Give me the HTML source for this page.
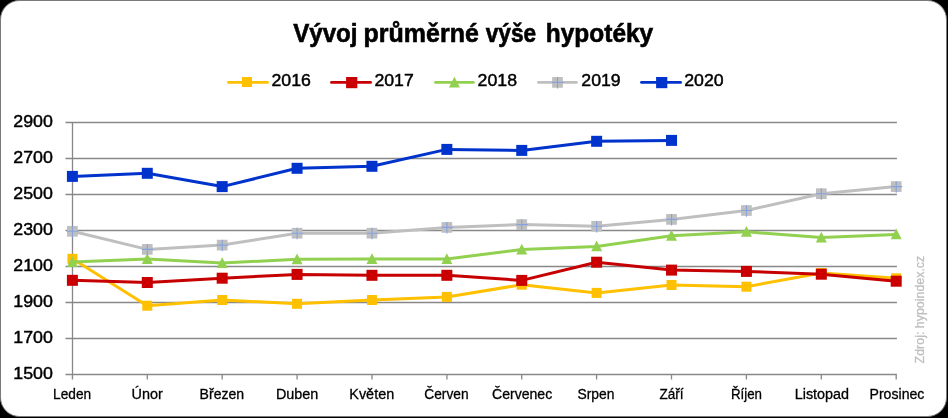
<!DOCTYPE html>
<html><head><meta charset="utf-8"><title>Vývoj průměrné výše hypotéky</title>
<style>
html,body{margin:0;padding:0;background:#000;}
body{width:948px;height:418px;overflow:hidden;}
svg{display:block;font-family:"Liberation Sans", sans-serif;will-change:transform;}
</style></head><body>
<svg width="948" height="418" viewBox="0 0 948 418">
<rect x="0" y="0" width="948" height="418" fill="#000"/>
<rect x="0.5" y="0.5" width="946" height="416" rx="19" ry="19" fill="#fff" stroke="#7a7a7a" stroke-width="1"/>

<path d="M65.5 122.5H896.9 M65.5 158.5H896.9 M65.5 194.5H896.9 M65.5 230.5H896.9 M65.5 266.5H896.9 M65.5 302.5H896.9 M65.5 338.5H896.9 M65.5 374.5H896.9 M72.5 122V379.5 M72.4 374.5V379.5 M147.3 374.5V379.5 M222.2 374.5V379.5 M297.1 374.5V379.5 M372.0 374.5V379.5 M446.9 374.5V379.5 M521.7 374.5V379.5 M596.6 374.5V379.5 M671.5 374.5V379.5 M746.4 374.5V379.5 M821.3 374.5V379.5 M896.2 374.5V379.5" stroke="#888888" stroke-width="1.3" fill="none"/>
<polyline points="72.40,258.80 147.29,305.70 222.18,300.00 297.07,303.80 371.96,300.00 446.85,296.90 521.75,284.70 596.64,292.90 671.53,285.00 746.42,286.70 821.31,273.00 896.20,278.30" fill="none" stroke="#FFC000" stroke-width="3" stroke-linejoin="round" stroke-linecap="round"/>
<rect x="67.40" y="253.80" width="10.0" height="10.0" fill="#FFC000"/>
<rect x="142.29" y="300.70" width="10.0" height="10.0" fill="#FFC000"/>
<rect x="217.18" y="295.00" width="10.0" height="10.0" fill="#FFC000"/>
<rect x="292.07" y="298.80" width="10.0" height="10.0" fill="#FFC000"/>
<rect x="366.96" y="295.00" width="10.0" height="10.0" fill="#FFC000"/>
<rect x="441.85" y="291.90" width="10.0" height="10.0" fill="#FFC000"/>
<rect x="516.75" y="279.70" width="10.0" height="10.0" fill="#FFC000"/>
<rect x="591.64" y="287.90" width="10.0" height="10.0" fill="#FFC000"/>
<rect x="666.53" y="280.00" width="10.0" height="10.0" fill="#FFC000"/>
<rect x="741.42" y="281.70" width="10.0" height="10.0" fill="#FFC000"/>
<rect x="816.31" y="268.00" width="10.0" height="10.0" fill="#FFC000"/>
<rect x="891.20" y="273.30" width="10.0" height="10.0" fill="#FFC000"/>
<polyline points="72.40,280.30 147.29,282.50 222.18,278.20 297.07,274.40 371.96,275.30 446.85,275.30 521.75,280.40 596.64,262.20 671.53,270.10 746.42,271.40 821.31,274.20 896.20,281.20" fill="none" stroke="#C60000" stroke-width="3" stroke-linejoin="round" stroke-linecap="round"/>
<rect x="66.90" y="274.80" width="11.0" height="11.0" fill="#C60000"/><path d="M67.90 275.80L76.90 284.80M76.90 275.80L67.90 284.80" stroke="#D60000" stroke-width="1.2" fill="none"/>
<rect x="141.79" y="277.00" width="11.0" height="11.0" fill="#C60000"/><path d="M142.79 278.00L151.79 287.00M151.79 278.00L142.79 287.00" stroke="#D60000" stroke-width="1.2" fill="none"/>
<rect x="216.68" y="272.70" width="11.0" height="11.0" fill="#C60000"/><path d="M217.68 273.70L226.68 282.70M226.68 273.70L217.68 282.70" stroke="#D60000" stroke-width="1.2" fill="none"/>
<rect x="291.57" y="268.90" width="11.0" height="11.0" fill="#C60000"/><path d="M292.57 269.90L301.57 278.90M301.57 269.90L292.57 278.90" stroke="#D60000" stroke-width="1.2" fill="none"/>
<rect x="366.46" y="269.80" width="11.0" height="11.0" fill="#C60000"/><path d="M367.46 270.80L376.46 279.80M376.46 270.80L367.46 279.80" stroke="#D60000" stroke-width="1.2" fill="none"/>
<rect x="441.35" y="269.80" width="11.0" height="11.0" fill="#C60000"/><path d="M442.35 270.80L451.35 279.80M451.35 270.80L442.35 279.80" stroke="#D60000" stroke-width="1.2" fill="none"/>
<rect x="516.25" y="274.90" width="11.0" height="11.0" fill="#C60000"/><path d="M517.25 275.90L526.25 284.90M526.25 275.90L517.25 284.90" stroke="#D60000" stroke-width="1.2" fill="none"/>
<rect x="591.14" y="256.70" width="11.0" height="11.0" fill="#C60000"/><path d="M592.14 257.70L601.14 266.70M601.14 257.70L592.14 266.70" stroke="#D60000" stroke-width="1.2" fill="none"/>
<rect x="666.03" y="264.60" width="11.0" height="11.0" fill="#C60000"/><path d="M667.03 265.60L676.03 274.60M676.03 265.60L667.03 274.60" stroke="#D60000" stroke-width="1.2" fill="none"/>
<rect x="740.92" y="265.90" width="11.0" height="11.0" fill="#C60000"/><path d="M741.92 266.90L750.92 275.90M750.92 266.90L741.92 275.90" stroke="#D60000" stroke-width="1.2" fill="none"/>
<rect x="815.81" y="268.70" width="11.0" height="11.0" fill="#C60000"/><path d="M816.81 269.70L825.81 278.70M825.81 269.70L816.81 278.70" stroke="#D60000" stroke-width="1.2" fill="none"/>
<rect x="890.70" y="275.70" width="11.0" height="11.0" fill="#C60000"/><path d="M891.70 276.70L900.70 285.70M900.70 276.70L891.70 285.70" stroke="#D60000" stroke-width="1.2" fill="none"/>
<polyline points="72.40,262.00 147.29,259.00 222.18,263.00 297.07,259.30 371.96,259.00 446.85,259.00 521.75,249.50 596.64,246.40 671.53,235.70 746.42,231.80 821.31,237.60 896.20,234.40" fill="none" stroke="#92D050" stroke-width="3" stroke-linejoin="round" stroke-linecap="round"/>
<polygon points="72.40,256.17 77.90,266.95 66.90,266.95" fill="#92D050"/>
<polygon points="147.29,253.17 152.79,263.95 141.79,263.95" fill="#92D050"/>
<polygon points="222.18,257.17 227.68,267.95 216.68,267.95" fill="#92D050"/>
<polygon points="297.07,253.47 302.57,264.25 291.57,264.25" fill="#92D050"/>
<polygon points="371.96,253.17 377.46,263.95 366.46,263.95" fill="#92D050"/>
<polygon points="446.85,253.17 452.35,263.95 441.35,263.95" fill="#92D050"/>
<polygon points="521.75,243.67 527.25,254.45 516.25,254.45" fill="#92D050"/>
<polygon points="596.64,240.57 602.14,251.35 591.14,251.35" fill="#92D050"/>
<polygon points="671.53,229.87 677.03,240.65 666.03,240.65" fill="#92D050"/>
<polygon points="746.42,225.97 751.92,236.75 740.92,236.75" fill="#92D050"/>
<polygon points="821.31,231.77 826.81,242.55 815.81,242.55" fill="#92D050"/>
<polygon points="896.20,228.57 901.70,239.35 890.70,239.35" fill="#92D050"/>
<polyline points="72.40,231.30 147.29,249.40 222.18,245.10 297.07,233.20 371.96,233.20 446.85,227.40 521.75,224.60 596.64,226.30 671.53,219.40 746.42,210.50 821.31,193.70 896.20,186.60" fill="none" stroke="#BFBFBF" stroke-width="3" stroke-linejoin="round" stroke-linecap="round"/>
<rect x="67.05" y="225.95" width="10.7" height="10.7" fill="#BFBFBF"/><path d="M67.05 231.30H78.35M72.40 225.95V237.45" stroke="#86A2DE" stroke-width="1.1" fill="none"/>
<rect x="141.94" y="244.05" width="10.7" height="10.7" fill="#BFBFBF"/><path d="M141.94 249.40H153.24M147.29 244.05V255.55" stroke="#86A2DE" stroke-width="1.1" fill="none"/>
<rect x="216.83" y="239.75" width="10.7" height="10.7" fill="#BFBFBF"/><path d="M216.83 245.10H228.13M222.18 239.75V251.25" stroke="#86A2DE" stroke-width="1.1" fill="none"/>
<rect x="291.72" y="227.85" width="10.7" height="10.7" fill="#BFBFBF"/><path d="M291.72 233.20H303.02M297.07 227.85V239.35" stroke="#86A2DE" stroke-width="1.1" fill="none"/>
<rect x="366.61" y="227.85" width="10.7" height="10.7" fill="#BFBFBF"/><path d="M366.61 233.20H377.91M371.96 227.85V239.35" stroke="#86A2DE" stroke-width="1.1" fill="none"/>
<rect x="441.50" y="222.05" width="10.7" height="10.7" fill="#BFBFBF"/><path d="M441.50 227.40H452.80M446.85 222.05V233.55" stroke="#86A2DE" stroke-width="1.1" fill="none"/>
<rect x="516.40" y="219.25" width="10.7" height="10.7" fill="#BFBFBF"/><path d="M516.40 224.60H527.70M521.75 219.25V230.75" stroke="#86A2DE" stroke-width="1.1" fill="none"/>
<rect x="591.29" y="220.95" width="10.7" height="10.7" fill="#BFBFBF"/><path d="M591.29 226.30H602.59M596.64 220.95V232.45" stroke="#86A2DE" stroke-width="1.1" fill="none"/>
<rect x="666.18" y="214.05" width="10.7" height="10.7" fill="#BFBFBF"/><path d="M666.18 219.40H677.48M671.53 214.05V225.55" stroke="#86A2DE" stroke-width="1.1" fill="none"/>
<rect x="741.07" y="205.15" width="10.7" height="10.7" fill="#BFBFBF"/><path d="M741.07 210.50H752.37M746.42 205.15V216.65" stroke="#86A2DE" stroke-width="1.1" fill="none"/>
<rect x="815.96" y="188.35" width="10.7" height="10.7" fill="#BFBFBF"/><path d="M815.96 193.70H827.26M821.31 188.35V199.85" stroke="#86A2DE" stroke-width="1.1" fill="none"/>
<rect x="890.85" y="181.25" width="10.7" height="10.7" fill="#BFBFBF"/><path d="M890.85 186.60H902.15M896.20 181.25V192.75" stroke="#86A2DE" stroke-width="1.1" fill="none"/>
<polyline points="72.40,176.40 147.29,173.30 222.18,186.60 297.07,168.30 371.96,166.30 446.85,149.40 521.75,150.40 596.64,141.30 671.53,140.40" fill="none" stroke="#0033CC" stroke-width="3" stroke-linejoin="round" stroke-linecap="round"/>
<rect x="66.90" y="170.90" width="11.0" height="11.0" fill="#0033CC"/>
<rect x="141.79" y="167.80" width="11.0" height="11.0" fill="#0033CC"/>
<rect x="216.68" y="181.10" width="11.0" height="11.0" fill="#0033CC"/>
<rect x="291.57" y="162.80" width="11.0" height="11.0" fill="#0033CC"/>
<rect x="366.46" y="160.80" width="11.0" height="11.0" fill="#0033CC"/>
<rect x="441.35" y="143.90" width="11.0" height="11.0" fill="#0033CC"/>
<rect x="516.25" y="144.90" width="11.0" height="11.0" fill="#0033CC"/>
<rect x="591.14" y="135.80" width="11.0" height="11.0" fill="#0033CC"/>
<rect x="666.03" y="134.90" width="11.0" height="11.0" fill="#0033CC"/>
<text x="293.20" y="42.4" font-size="25.1" font-weight="bold" fill="#000" stroke="#000" stroke-width="0.6" textLength="64.30" lengthAdjust="spacingAndGlyphs">Vývoj</text>
<text x="363.60" y="42.4" font-size="25.1" font-weight="bold" fill="#000" stroke="#000" stroke-width="0.6" textLength="115.20" lengthAdjust="spacingAndGlyphs">průměrné</text>
<text x="485.70" y="42.4" font-size="25.1" font-weight="bold" fill="#000" stroke="#000" stroke-width="0.6" textLength="50.50" lengthAdjust="spacingAndGlyphs">výše</text>
<text x="545.80" y="42.4" font-size="25.1" font-weight="bold" fill="#000" stroke="#000" stroke-width="0.6" textLength="107.40" lengthAdjust="spacingAndGlyphs">hypotéky</text>
<path d="M228.5 82.4H267.6" stroke="#FFC000" stroke-width="2.8" stroke-linecap="round"/>
<rect x="242.00" y="77.00" width="10.0" height="10.0" fill="#FFC000"/>
<text x="271.5" y="86.2" font-size="17.2" fill="#000" stroke="#000" stroke-width="0.45" textLength="39.4" lengthAdjust="spacingAndGlyphs">2016</text>
<path d="M331.5 82.4H370.6" stroke="#C60000" stroke-width="2.8" stroke-linecap="round"/>
<rect x="346.10" y="77.00" width="11.2" height="11.2" fill="#C60000"/><path d="M347.10 78.00L356.30 87.20M356.30 78.00L347.10 87.20" stroke="#D60000" stroke-width="1.2" fill="none"/>
<text x="374.4" y="86.2" font-size="17.2" fill="#000" stroke="#000" stroke-width="0.45" textLength="39.4" lengthAdjust="spacingAndGlyphs">2017</text>
<path d="M435.5 82.4H473.4" stroke="#92D050" stroke-width="2.8" stroke-linecap="round"/>
<polygon points="454.40,76.67 459.90,87.45 448.90,87.45" fill="#92D050"/>
<text x="477.6" y="86.2" font-size="17.2" fill="#000" stroke="#000" stroke-width="0.45" textLength="39.4" lengthAdjust="spacingAndGlyphs">2018</text>
<path d="M538.5 82.4H576.4" stroke="#BFBFBF" stroke-width="2.8" stroke-linecap="round"/>
<rect x="552.15" y="77.05" width="10.7" height="10.7" fill="#BFBFBF"/><path d="M552.15 82.40H563.45M557.50 77.05V88.55" stroke="#86A2DE" stroke-width="1.1" fill="none"/>
<text x="581.3" y="86.2" font-size="17.2" fill="#000" stroke="#000" stroke-width="0.45" textLength="39.4" lengthAdjust="spacingAndGlyphs">2019</text>
<path d="M641.5 82.4H680.6" stroke="#0033CC" stroke-width="2.8" stroke-linecap="round"/>
<rect x="656.10" y="77.00" width="11.2" height="11.2" fill="#0033CC"/>
<text x="684.2" y="86.2" font-size="17.2" fill="#000" stroke="#000" stroke-width="0.45" textLength="39.4" lengthAdjust="spacingAndGlyphs">2020</text>
<text x="13.3" y="127.2" font-size="17.1" fill="#000" stroke="#000" stroke-width="0.45" textLength="39.6" lengthAdjust="spacingAndGlyphs">2900</text>
<text x="13.3" y="163.2" font-size="17.1" fill="#000" stroke="#000" stroke-width="0.45" textLength="39.6" lengthAdjust="spacingAndGlyphs">2700</text>
<text x="13.3" y="199.2" font-size="17.1" fill="#000" stroke="#000" stroke-width="0.45" textLength="39.6" lengthAdjust="spacingAndGlyphs">2500</text>
<text x="13.3" y="235.2" font-size="17.1" fill="#000" stroke="#000" stroke-width="0.45" textLength="39.6" lengthAdjust="spacingAndGlyphs">2300</text>
<text x="13.3" y="271.2" font-size="17.1" fill="#000" stroke="#000" stroke-width="0.45" textLength="39.6" lengthAdjust="spacingAndGlyphs">2100</text>
<text x="13.3" y="307.2" font-size="17.1" fill="#000" stroke="#000" stroke-width="0.45" textLength="39.6" lengthAdjust="spacingAndGlyphs">1900</text>
<text x="13.3" y="343.2" font-size="17.1" fill="#000" stroke="#000" stroke-width="0.45" textLength="39.6" lengthAdjust="spacingAndGlyphs">1700</text>
<text x="13.3" y="379.2" font-size="17.1" fill="#000" stroke="#000" stroke-width="0.45" textLength="39.6" lengthAdjust="spacingAndGlyphs">1500</text>
<text x="53.1" y="399" font-size="14.7" fill="#000" stroke="#000" stroke-width="0.3" textLength="38.0" lengthAdjust="spacingAndGlyphs">Leden</text>
<text x="131.5" y="399" font-size="14.7" fill="#000" stroke="#000" stroke-width="0.3" textLength="31.3" lengthAdjust="spacingAndGlyphs">Únor</text>
<text x="199.6" y="399" font-size="14.7" fill="#000" stroke="#000" stroke-width="0.3" textLength="44.6" lengthAdjust="spacingAndGlyphs">Březen</text>
<text x="275.9" y="399" font-size="14.7" fill="#000" stroke="#000" stroke-width="0.3" textLength="42.4" lengthAdjust="spacingAndGlyphs">Duben</text>
<text x="349.3" y="399" font-size="14.7" fill="#000" stroke="#000" stroke-width="0.3" textLength="44.9" lengthAdjust="spacingAndGlyphs">Květen</text>
<text x="424.3" y="399" font-size="14.7" fill="#000" stroke="#000" stroke-width="0.3" textLength="44.3" lengthAdjust="spacingAndGlyphs">Červen</text>
<text x="492.0" y="399" font-size="14.7" fill="#000" stroke="#000" stroke-width="0.3" textLength="60.2" lengthAdjust="spacingAndGlyphs">Červenec</text>
<text x="577.5" y="399" font-size="14.7" fill="#000" stroke="#000" stroke-width="0.3" textLength="37.0" lengthAdjust="spacingAndGlyphs">Srpen</text>
<text x="659.4" y="399" font-size="14.7" fill="#000" stroke="#000" stroke-width="0.3" textLength="24.1" lengthAdjust="spacingAndGlyphs">Září</text>
<text x="730.9" y="399" font-size="14.7" fill="#000" stroke="#000" stroke-width="0.3" textLength="31.1" lengthAdjust="spacingAndGlyphs">Říjen</text>
<text x="794.7" y="399" font-size="14.7" fill="#000" stroke="#000" stroke-width="0.3" textLength="54.4" lengthAdjust="spacingAndGlyphs">Listopad</text>
<text x="869.5" y="399" font-size="14.7" fill="#000" stroke="#000" stroke-width="0.3" textLength="54.9" lengthAdjust="spacingAndGlyphs">Prosinec</text>
<text transform="translate(924.4 363.4) rotate(-90)" x="0" y="0" font-size="13" fill="#BFBFBF" stroke="#BFBFBF" stroke-width="0.3" textLength="107.7" lengthAdjust="spacingAndGlyphs">Zdroj: hypoindex.cz</text>
</svg></body></html>
